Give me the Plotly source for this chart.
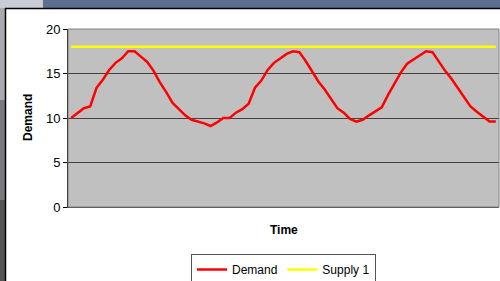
import plotly.graph_objects as go

time_labels = [str(i + 1) for i in range(68)]
demand = [10.0, 10.6, 11.1, 11.3, 13.4, 14.3, 15.4, 16.2, 16.7, 17.5,
          17.5, 16.9, 16.3, 15.3, 14.0, 12.9, 11.7, 11.0, 10.3, 9.8,
          9.6, 9.4, 9.1, 9.5, 10.0, 10.0, 10.6, 11.0, 11.6, 13.4,
          14.2, 15.4, 16.2, 16.7, 17.2, 17.5, 17.4, 16.4, 15.3, 14.1,
          13.2, 12.2, 11.1, 10.6, 9.9, 9.6, 9.8, 10.3, 10.8, 11.2,
          12.6, 13.9, 15.1, 16.1, 16.6, 17.1, 17.5, 17.4, 16.3, 15.3,
          14.4, 13.4, 12.4, 11.3, 10.7, 10.1, 9.6, 9.6]
supply1 = [18] * 68

W, H = 500, 281
L, R, T, B = 68, 1, 29, 74
pw, ph = W - L - R, H - T - B


def px(x):
    return (x - L) / pw


def py(y):
    return (H - B - y) / ph


fig = go.Figure()
fig.add_trace(go.Scatter(x=time_labels, y=demand, mode="lines", name="Demand",
                         line=dict(color="#ff0000", width=2.5)))
fig.add_trace(go.Scatter(x=time_labels, y=supply1, mode="lines", name="Supply 1",
                         line=dict(color="#ffff00", width=2.5)))

font = "Liberation Sans, Arial, sans-serif"
shapes = [
    dict(type="rect", xref="paper", yref="paper", x0=px(0), x1=px(43), y0=py(0), y1=py(8),
         fillcolor="#c9ccd6", line=dict(width=0), layer="above"),
    dict(type="rect", xref="paper", yref="paper", x0=px(43), x1=px(500), y0=py(0), y1=py(8),
         fillcolor="#5d6f91", line=dict(width=0), layer="above"),
    dict(type="rect", xref="paper", yref="paper", x0=px(0), x1=px(5), y0=py(8), y1=py(100),
         fillcolor="#a9a9b0", line=dict(width=0), layer="above"),
    dict(type="rect", xref="paper", yref="paper", x0=px(0), x1=px(5), y0=py(100), y1=py(200),
         fillcolor="#7a7a7e", line=dict(width=0), layer="above"),
    dict(type="rect", xref="paper", yref="paper", x0=px(0), x1=px(5), y0=py(200), y1=py(281),
         fillcolor="#555555", line=dict(width=0), layer="above"),
    dict(type="line", xref="paper", yref="paper", x0=px(5.5), x1=px(5.5), y0=py(8), y1=py(281),
         line=dict(color="#000000", width=1.5), layer="above"),
    dict(type="line", xref="paper", yref="paper", x0=px(5), x1=px(500), y0=py(8.5), y1=py(8.5),
         line=dict(color="#000000", width=1.5), layer="above"),
    dict(type="rect", xref="paper", yref="paper", x0=0, x1=1, y0=0, y1=1,
         line=dict(color="#808080", width=1), layer="above"),
]

fig.update_layout(
    width=W, height=H,
    margin=dict(l=L, r=R, t=T, b=B, autoexpand=False),
    paper_bgcolor="#ffffff",
    plot_bgcolor="#c0c0c0",
    font=dict(family=font, size=12, color="#000000"),
    showlegend=True,
    legend=dict(orientation="h", x=0.5, xanchor="center", y=py(254), yanchor="top",
                bgcolor="#ffffff", bordercolor="#555555", borderwidth=1,
                font=dict(family=font, size=12), itemwidth=30, tracegroupgap=0),
    xaxis=dict(type="category", range=[-0.5, 67.5], showticklabels=False, ticks="",
               showgrid=False, showline=True, linecolor="#404040", linewidth=1,
               zeroline=False, automargin=False),
    yaxis=dict(range=[0, 20], dtick=5, tick0=0, ticks="outside", ticklen=4,
               tickcolor="#000000", showline=True, linecolor="#000000", linewidth=1,
               gridcolor="#404040", gridwidth=1, zeroline=False, automargin=False,
               tickfont=dict(family=font, size=13)),
    shapes=shapes,
    annotations=[
        dict(text="<b>Time</b>", xref="paper", yref="paper", x=0.5, y=py(230),
             xanchor="center", yanchor="middle", showarrow=False,
             font=dict(family=font, size=12)),
        dict(text="<b>Demand</b>", xref="paper", yref="paper", x=px(28), y=py(118),
             xanchor="center", yanchor="middle", showarrow=False, textangle=-90,
             font=dict(family=font, size=12)),
    ],
)

fig.write_html("out.html", config={"displayModeBar": False},
               post_script="document.body.style.margin='0';document.body.style.overflow='hidden';")
